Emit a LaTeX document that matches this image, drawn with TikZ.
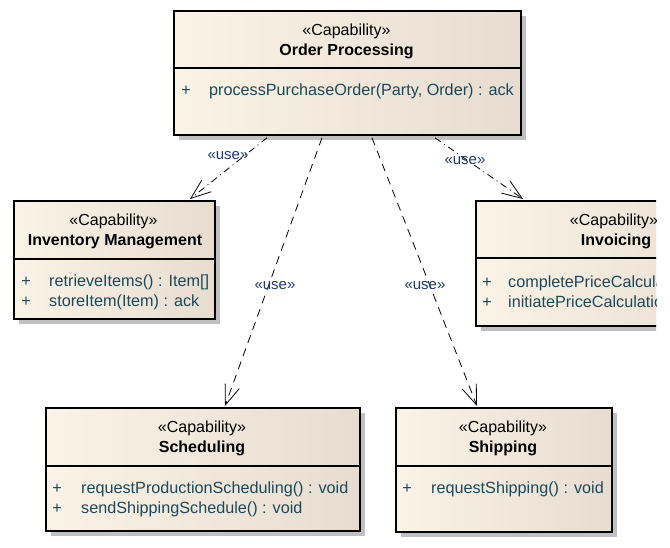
\documentclass[tikz,border=0pt]{standalone}
\usepackage{fontspec}
\setmainfont{Liberation Sans}
\usetikzlibrary{arrows.meta,shadows}
\definecolor{boxl}{HTML}{FBF3E6}
\definecolor{boxr}{HTML}{E6DDD0}
\definecolor{shad}{HTML}{C0C0C0}
\definecolor{memc}{HTML}{1A4A5A}
\definecolor{usec}{HTML}{1F3A6B}
\tikzset{
  classbox/.style={draw=black, line width=1.8pt, left color=boxl, right color=boxr,
    anchor=north west, inner sep=0pt,
    drop shadow={shadow xshift=5pt, shadow yshift=-5pt, fill=shad, opacity=1}},
  divline/.style={draw=black, line width=1.8pt},
  stereo/.style={anchor=base, inner sep=0pt, font=\fontsize{16}{18}\selectfont},
  cname/.style={anchor=base, inner sep=0pt, font=\fontsize{16}{18}\selectfont\bfseries},
  plus/.style={anchor=base, inner sep=0pt, text=memc, font=\fontsize{16.2}{18}\selectfont},
  member/.style={anchor=base west, inner sep=0pt, text=memc, font=\fontsize{16.2}{18}\selectfont},
  uselbl/.style={inner sep=1pt, text=usec, font=\fontsize{15}{17}\selectfont},
  dep/.style={draw=black, line width=0.8pt, dash pattern=on 8pt off 6pt,
    -{Straight Barb[length=20pt,width=15pt,line width=0.8pt]}},
  depdot/.style={draw=black, line width=0.8pt, dash pattern=on 7pt off 4pt on 1pt off 4pt,
    -{Straight Barb[length=20pt,width=15pt,line width=0.8pt]}}
}
\begin{document}
\begin{tikzpicture}[x=1pt,y=-1pt]
\useasboundingbox (0,0) rectangle (670,547);
\clip (0,0) rectangle (656,547);

% Order Processing
\node[classbox, minimum width=347pt, minimum height=124pt] (op) at (173,10) {};
\draw[divline] ([yshift=-58pt]op.north west) -- ([yshift=-58pt]op.north east);
\node[stereo] (op-st) at (346.5,35.5) {«Capability»};
\node[cname] (op-nm) at (346.5,55.5) {Order Processing};
\node[plus] (op-p1) at (186,95.5) {+};
\node[member] (op-m1) at (209,95.5) {processPurchaseOrder(Party, Order) : ack};

% Inventory Management
\node[classbox, minimum width=201pt, minimum height=118pt] (inv) at (13,200) {};
\draw[divline] ([yshift=-59pt]inv.north west) -- ([yshift=-59pt]inv.north east);
\node[stereo] (inv-st) at (113.5,225.5) {«Capability»};
\node[cname] (inv-nm) at (115,245.5) {Inventory Management};
\node[plus] (inv-p1) at (26,286) {+};
\node[member] (inv-m1) at (49,286) {retrieveItems() : Item[]};
\node[plus] (inv-p2) at (26,306) {+};
\node[member] (inv-m2) at (49,306) {storeItem(Item) : ack};

% Invoicing (cut off at the right edge, as in the reference)
\node[classbox, minimum width=282pt, minimum height=125pt] (invc) at (475,200) {};
\draw[divline] ([yshift=-58pt]invc.north west) -- ([yshift=-58pt]invc.north east);
\node[stereo] (invc-st) at (614,225.5) {«Capability»};
\node[cname] (invc-nm) at (616,245.5) {Invoicing};
\node[plus] (invc-p1) at (487,287.5) {+};
\node[member] (invc-m1) at (508,287.5) {completePriceCalculation() : void};
\node[plus] (invc-p2) at (487,307.5) {+};
\node[member] (invc-m2) at (508,307.5) {initiatePriceCalculation() : void};

% Scheduling
\node[classbox, minimum width=314pt, minimum height=123pt] (sch) at (45,407) {};
\draw[divline] ([yshift=-59pt]sch.north west) -- ([yshift=-59pt]sch.north east);
\node[stereo] (sch-st) at (202,432.5) {«Capability»};
\node[cname] (sch-nm) at (202,452.5) {Scheduling};
\node[plus] (sch-p1) at (57,493.5) {+};
\node[member] (sch-m1) at (81,493.5) {requestProductionScheduling() : void};
\node[plus] (sch-p2) at (57,513.5) {+};
\node[member] (sch-m2) at (81,513.5) {sendShippingSchedule() : void};

% Shipping
\node[classbox, minimum width=216pt, minimum height=124pt] (shp) at (395,407) {};
\draw[divline] ([yshift=-59pt]shp.north west) -- ([yshift=-59pt]shp.north east);
\node[stereo] (shp-st) at (503,432.5) {«Capability»};
\node[cname] (shp-nm) at (503,452.5) {Shipping};
\node[plus] (shp-p1) at (407,493.5) {+};
\node[member] (shp-m1) at (431,493.5) {requestShipping() : void};

% dependencies
\draw[depdot] ([xshift=94pt,yshift=-2pt]op.south west) -- ([xshift=177pt,yshift=1pt]inv.north west);
\draw[dep] ([xshift=149pt,yshift=-2pt]op.south west) -- ([xshift=180pt,yshift=1pt]sch.north west);
\draw[dep] ([xshift=199pt,yshift=-2pt]op.south west) -- ([xshift=82pt,yshift=1pt]shp.north west);
\draw[depdot] ([xshift=262pt,yshift=-2pt]op.south west) -- ([xshift=48pt,yshift=1pt]invc.north west);

\node[uselbl] (u1) at (228,156) {«use»};
\node[uselbl] (u2) at (275,286) {«use»};
\node[uselbl] (u3) at (425,286) {«use»};
\node[uselbl] (u4) at (465,161) {«use»};
\end{tikzpicture}
\end{document}
